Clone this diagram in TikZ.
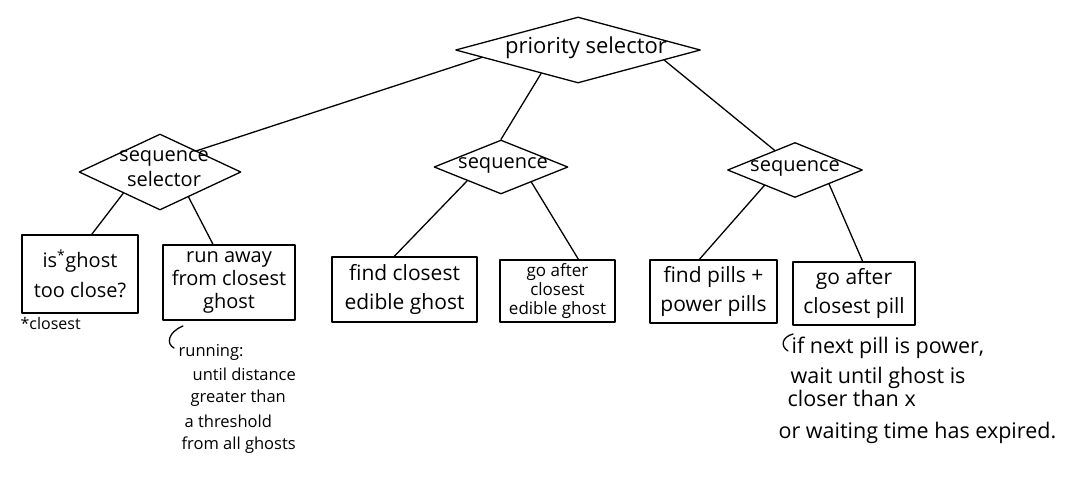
\documentclass[tikz,border=0pt]{standalone}
\usepackage{fontspec}
\setmainfont{Open Sans}
\usetikzlibrary{shapes.geometric,calc}
\begin{document}
\begin{tikzpicture}[x=1pt,y=-1pt, line width=1.3pt, line join=round, line cap=round,
  dia/.style={draw, diamond, inner sep=0pt},
  diatext/.style={align=center, inner sep=0pt, font=\fontsize{20}{25}\selectfont},
  act/.style={draw, rectangle, inner sep=2pt, align=center, font=\fontsize{21}{29}\selectfont},
  smallact/.style={act, font=\fontsize{17}{19}\selectfont},
  notebig/.style={anchor=base west, inner sep=0pt, font=\fontsize{21.5}{24}\selectfont},
  notesmall/.style={anchor=base west, inner sep=0pt, font=\fontsize{16.5}{18}\selectfont},
  link/.style={draw}]
\useasboundingbox (0,0) rectangle (1079,477);

% diamonds
\node[dia, minimum width=245pt, minimum height=66pt, aspect=3.7] (prio) at (578,50) {};
\node[diatext, font=\fontsize{22}{26}\selectfont] (priot) at (586,48) {priority selector};
\node[dia, minimum width=162pt, minimum height=76pt, aspect=2.1] (seqsel) at (160,172) {};
\node[diatext] (seqselt) at (164,169) {sequence\\selector};
\node[dia, minimum width=134pt, minimum height=54pt, aspect=2.5] (mid) at (501,167) {};
\node[diatext] (midt) at (503,165) {sequence};
\node[dia, minimum width=135pt, minimum height=55pt, aspect=2.5] (rseq) at (795,170) {};
\node[diatext] (rseqt) at (795,168) {sequence};

% action boxes
\node[act, minimum width=116pt, minimum height=78pt, font=\fontsize{20}{30}\selectfont] (isg) at (80,274) {is\textsuperscript{*}ghost\\too close?};
\node[act, minimum width=132pt, minimum height=75pt, font=\fontsize{20}{23}\selectfont] (run) at (229,282.5) {run away\\from closest\\ghost};
\node[act, minimum width=145pt, minimum height=65pt] (fce) at (404.5,289.5) {find closest\\edible ghost};
\node[smallact, minimum width=115pt, minimum height=62pt] (gae) at (557.5,291) {go after\\closest\\edible ghost};
\node[act, minimum width=127pt, minimum height=63pt] (fp) at (713.5,291.5) {find pills +\\power pills};
\node[act, minimum width=122pt, minimum height=63pt] (gap) at (854,293.5) {go after\\closest pill};

% connectors
\draw[link] ($(prio.west)!0.22!(prio.south)$) -- ($(seqsel.north)!0.45!(seqsel.east)$);
\draw[link] ($(prio.west)!0.7!(prio.south)$) -- (mid.north);
\draw[link] ($(prio.south)!0.7!(prio.east)$) -- ($(rseq.north)!0.3!(rseq.west)$);
\draw[link] ($(seqsel.west)!0.55!(seqsel.south)$) -- ($(isg.north west)!0.6!(isg.north east)$);
\draw[link] ($(seqsel.south)!0.35!(seqsel.east)$) -- ($(run.north west)!0.38!(run.north east)$);
\draw[link] ($(mid.south)!0.5!(mid.west)$) -- ($(fce.north west)!0.43!(fce.north east)$);
\draw[link] ($(mid.south)!0.45!(mid.east)$) -- ($(gae.north west)!0.68!(gae.north east)$);
\draw[link] ($(rseq.south)!0.45!(rseq.west)$) -- ($(fp.north west)!0.39!(fp.north east)$);
\draw[link] ($(rseq.south)!0.5!(rseq.east)$) -- ($(gap.north west)!0.57!(gap.north east)$);

% footnote
\node[anchor=north west, inner sep=0pt, font=\fontsize{16}{18}\selectfont] (fn) at (20,317) {*closest};

% running note
\coordinate (rb1) at (183,326);
\coordinate (rb2) at (174,348);
\draw (rb1) .. controls (168,332) and (166,344) .. (rb2);
\node[notesmall] (r1) at (178,356) {running:};
\node[notesmall] (r2) at (192,380) {until distance};
\node[notesmall] (r3) at (190,402) {greater than};
\node[notesmall] (r4) at (184,427) {a threshold};
\node[notesmall] (r5) at (181,449) {from all ghosts};

% pill note
\coordinate (pb1) at (793,334);
\coordinate (pb2) at (788,351);
\draw (pb1) .. controls (782,337) and (780,346) .. (pb2);
\node[notebig] (p1) at (791,353) {if next pill is power,};
\node[notebig] (p2) at (790,383) {wait until ghost is};
\node[notebig] (p3) at (787,406) {closer than x};
\node[notebig] (p4) at (778,438) {or waiting time has expired.};
\end{tikzpicture}
\end{document}
